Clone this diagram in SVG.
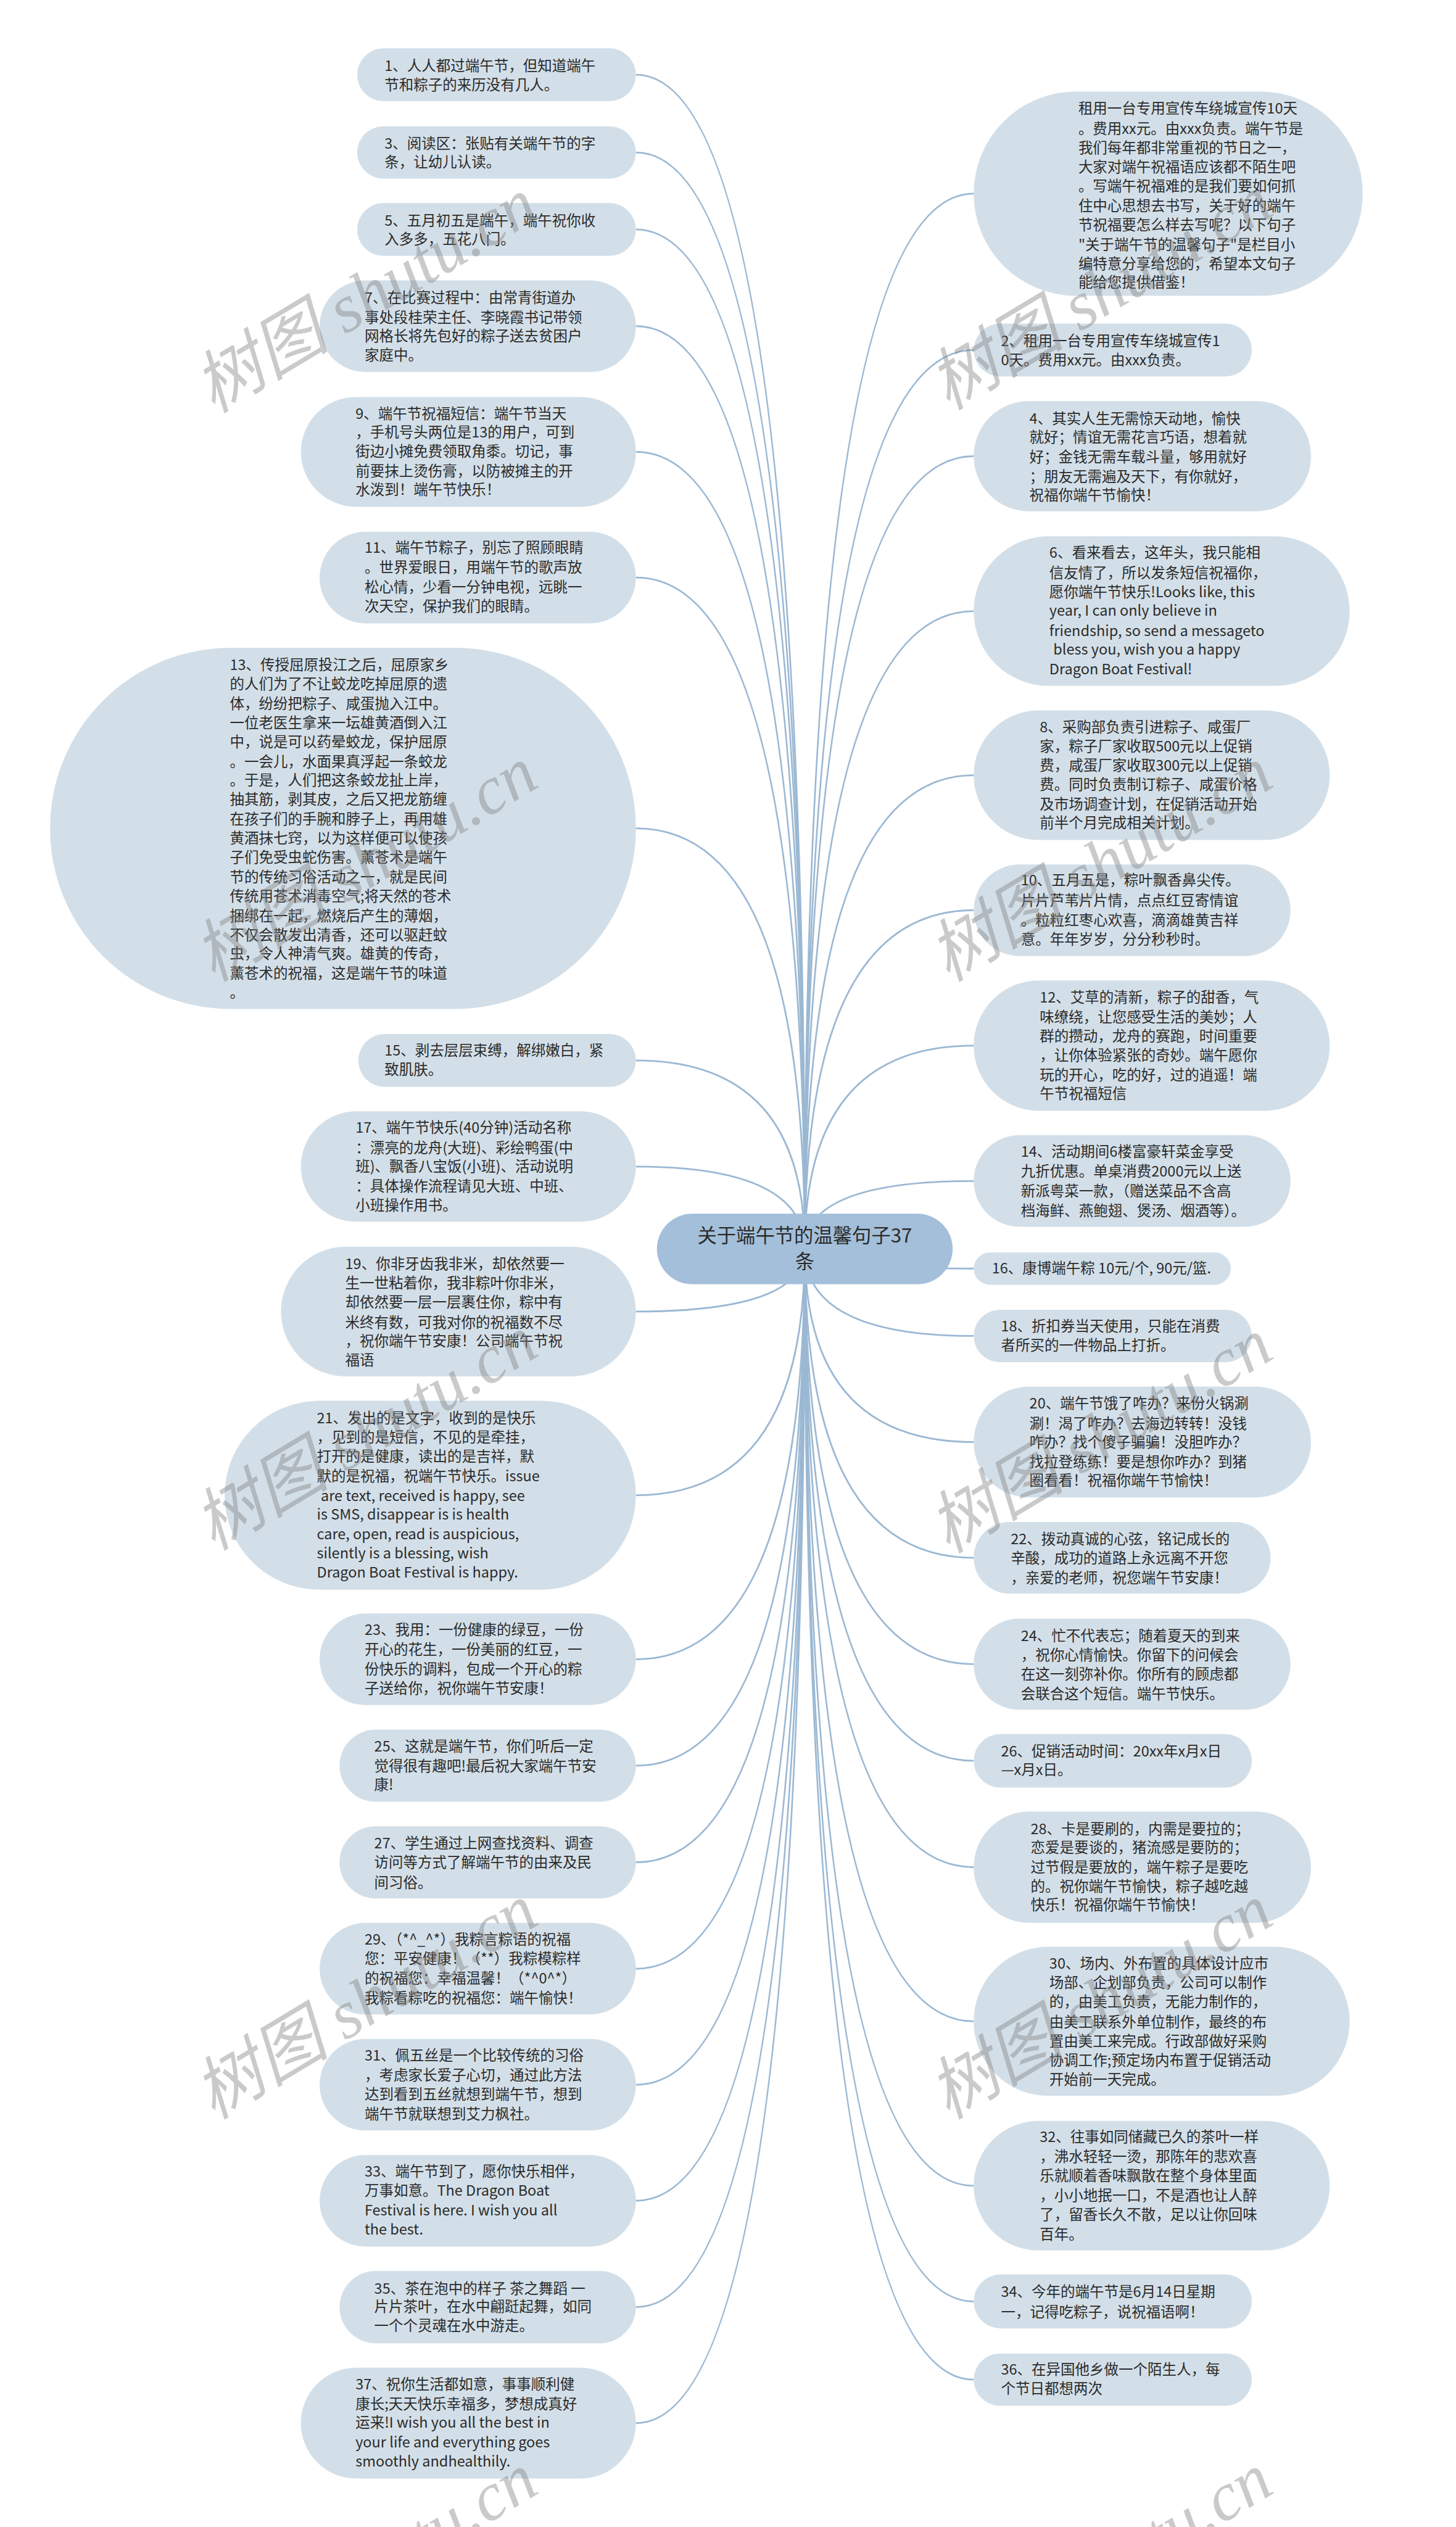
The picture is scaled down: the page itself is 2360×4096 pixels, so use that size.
<svg xmlns="http://www.w3.org/2000/svg" width="2360" height="4096" viewBox="0 0 2360 4096">
<style>
.n{fill:#d3dfe8}
.r{fill:#a3bfda}
.t{font-family:"Noto Sans CJK SC","Noto Sans",sans-serif;font-size:25.5px;fill:#2b2b2b}
.rt{font-family:"Noto Sans CJK SC","Noto Sans",sans-serif;font-size:34px;fill:#2b2b2b;text-anchor:middle}
.c{fill:none;stroke:#9bb8d3;stroke-width:3}
.wm{font-family:"Liberation Serif","Noto Sans CJK SC",serif;font-style:italic;font-size:120px;fill:#808080;fill-opacity:0.42;text-anchor:middle}
</style>
<rect width="2360" height="4096" fill="#ffffff"/>
<g transform="scale(0.921875)">
<g id="connectors">
<path class="c" d="M1415 2196Q1415 131.5 1118 131.5"/>
<path class="c" d="M1415 2196Q1415 268 1118 268"/>
<path class="c" d="M1415 2196Q1415 403.5 1118 403.5"/>
<path class="c" d="M1415 2196Q1415 573.5 1118 573.5"/>
<path class="c" d="M1415 2196Q1415 794.5 1118 794.5"/>
<path class="c" d="M1415 2196Q1415 1015.5 1118 1015.5"/>
<path class="c" d="M1415 2196Q1415 1456.5 1118 1456.5"/>
<path class="c" d="M1415 2196Q1415 1864.5 1118 1864.5"/>
<path class="c" d="M1415 2196Q1415 2051 1118 2051"/>
<path class="c" d="M1415 2196Q1415 2306 1118 2306"/>
<path class="c" d="M1415 2196Q1415 2629 1118 2629"/>
<path class="c" d="M1415 2196Q1415 2917.5 1118 2917.5"/>
<path class="c" d="M1415 2196Q1415 3104.5 1118 3104.5"/>
<path class="c" d="M1415 2196Q1415 3274.5 1118 3274.5"/>
<path class="c" d="M1415 2196Q1415 3461.5 1118 3461.5"/>
<path class="c" d="M1415 2196Q1415 3665.5 1118 3665.5"/>
<path class="c" d="M1415 2196Q1415 3869.5 1118 3869.5"/>
<path class="c" d="M1415 2196Q1415 4056.5 1118 4056.5"/>
<path class="c" d="M1415 2196Q1415 4260.5 1118 4260.5"/>
<path class="c" d="M1415 2196Q1415 340.5 1712 340.5"/>
<path class="c" d="M1415 2196Q1415 615.5 1712 615.5"/>
<path class="c" d="M1415 2196Q1415 802 1712 802"/>
<path class="c" d="M1415 2196Q1415 1074.5 1712 1074.5"/>
<path class="c" d="M1415 2196Q1415 1363 1712 1363"/>
<path class="c" d="M1415 2196Q1415 1600.5 1712 1600.5"/>
<path class="c" d="M1415 2196Q1415 1838.5 1712 1838.5"/>
<path class="c" d="M1415 2196Q1415 2076.5 1712 2076.5"/>
<path class="c" d="M1415 2196Q1415 2230.5 1712 2230.5"/>
<path class="c" d="M1415 2196Q1415 2349 1712 2349"/>
<path class="c" d="M1415 2196Q1415 2535.5 1712 2535.5"/>
<path class="c" d="M1415 2196Q1415 2739 1712 2739"/>
<path class="c" d="M1415 2196Q1415 2926 1712 2926"/>
<path class="c" d="M1415 2196Q1415 3096 1712 3096"/>
<path class="c" d="M1415 2196Q1415 3283 1712 3283"/>
<path class="c" d="M1415 2196Q1415 3554 1712 3554"/>
<path class="c" d="M1415 2196Q1415 3843 1712 3843"/>
<path class="c" d="M1415 2196Q1415 4046.5 1712 4046.5"/>
<path class="c" d="M1415 2196Q1415 4184 1712 4184"/>
</g>

<g id="root">
<rect class="r" x="1155" y="2134" width="520" height="124" rx="62"/>
<text class="rt"><tspan x="1415" y="2185">关于端午节的温馨句子37</tspan><tspan x="1415" y="2230">条</tspan></text>
</g>

<g id="n1"><rect class="n" x="628" y="85" width="490" height="93" rx="46.5"/>
<text class="t"><tspan x="676" y="125">1、人人都过端午节，但知道端午</tspan><tspan x="676" y="158">节和粽子的来历没有几人。</tspan></text></g>

<g id="n3"><rect class="n" x="628" y="222" width="490" height="92" rx="46"/>
<text class="t"><tspan x="676" y="261">3、阅读区：张贴有关端午节的字</tspan><tspan x="676" y="294">条，让幼儿认读。</tspan></text></g>

<g id="n5"><rect class="n" x="628" y="357" width="490" height="93" rx="46.5"/>
<text class="t"><tspan x="676" y="397">5、五月初五是端午，端午祝你收</tspan><tspan x="676" y="430">入多多，五花八门。</tspan></text></g>

<g id="n7"><rect class="n" x="562" y="493" width="556" height="161" rx="80.5"/>
<text class="t"><tspan x="641" y="533">7、在比赛过程中：由常青街道办</tspan><tspan x="641" y="567">事处段桂荣主任、李晓霞书记带领</tspan><tspan x="641" y="600">网格长将先包好的粽子送去贫困户</tspan><tspan x="641" y="634">家庭中。</tspan></text></g>

<g id="n9"><rect class="n" x="529" y="698" width="589" height="193" rx="96.5"/>
<text class="t"><tspan x="625" y="736">9、端午节祝福短信：端午节当天</tspan><tspan x="625" y="769">，手机号头两位是13的用户，可到</tspan><tspan x="625" y="803">街边小摊免费领取角黍。切记，事</tspan><tspan x="625" y="837">前要抹上烫伤膏，以防被摊主的开</tspan><tspan x="625" y="870">水泼到！端午节快乐！</tspan></text></g>

<g id="n11"><rect class="n" x="562" y="935" width="556" height="161" rx="80.5"/>
<text class="t"><tspan x="641" y="972">11、端午节粽子，别忘了照顾眼睛</tspan><tspan x="641" y="1007">。世界爱眼日，用端午节的歌声放</tspan><tspan x="641" y="1041">松心情，少看一分钟电视，远眺一</tspan><tspan x="641" y="1075">次天空，保护我们的眼睛。</tspan></text></g>

<g id="n13"><rect class="n" x="88" y="1139" width="1030" height="635" rx="317.5"/>
<text class="t"><tspan x="404" y="1178">13、传授屈原投江之后，屈原家乡</tspan><tspan x="404" y="1212">的人们为了不让蛟龙吃掉屈原的遗</tspan><tspan x="404" y="1246">体，纷纷把粽子、咸蛋抛入江中。</tspan><tspan x="404" y="1280">一位老医生拿来一坛雄黄酒倒入江</tspan><tspan x="404" y="1314">中，说是可以药晕蛟龙，保护屈原</tspan><tspan x="404" y="1348">。一会儿，水面果真浮起一条蛟龙</tspan><tspan x="404" y="1381">。于是，人们把这条蛟龙扯上岸，</tspan><tspan x="404" y="1415">抽其筋，剥其皮，之后又把龙筋缠</tspan><tspan x="404" y="1449">在孩子们的手腕和脖子上，再用雄</tspan><tspan x="404" y="1483">黄酒抹七窍，以为这样便可以使孩</tspan><tspan x="404" y="1517">子们免受虫蛇伤害。薰苍术是端午</tspan><tspan x="404" y="1551">节的传统习俗活动之一，就是民间</tspan><tspan x="404" y="1585">传统用苍术消毒空气;将天然的苍术</tspan><tspan x="404" y="1619">捆绑在一起，燃烧后产生的薄烟，</tspan><tspan x="404" y="1653">不仅会散发出清香，还可以驱赶蚊</tspan><tspan x="404" y="1686">虫，令人神清气爽。雄黄的传奇，</tspan><tspan x="404" y="1720">薰苍术的祝福，这是端午节的味道</tspan><tspan x="404" y="1754">。</tspan></text></g>

<g id="n15"><rect class="n" x="630" y="1818" width="488" height="93" rx="46.5"/>
<text class="t"><tspan x="676" y="1856">15、剥去层层束缚，解绑嫩白，紧</tspan><tspan x="676" y="1890">致肌肤。</tspan></text></g>

<g id="n17"><rect class="n" x="529" y="1954" width="589" height="194" rx="97"/>
<text class="t"><tspan x="625" y="1992">17、端午节快乐(40分钟)活动名称</tspan><tspan x="625" y="2027">：漂亮的龙舟(大班)、彩绘鸭蛋(中</tspan><tspan x="625" y="2060">班)、飘香八宝饭(小班)、活动说明</tspan><tspan x="625" y="2095">：具体操作流程请见大班、中班、</tspan><tspan x="625" y="2128">小班操作用书。</tspan></text></g>

<g id="n19"><rect class="n" x="494" y="2192" width="624" height="228" rx="114"/>
<text class="t"><tspan x="607" y="2231">19、你非牙齿我非米，却依然要一</tspan><tspan x="607" y="2265">生一世粘着你，我非粽叶你非米，</tspan><tspan x="607" y="2299">却依然要一层一层裹住你，粽中有</tspan><tspan x="607" y="2334">米终有数，可我对你的祝福数不尽</tspan><tspan x="607" y="2367">，祝你端午节安康！公司端午节祝</tspan><tspan x="607" y="2400">福语</tspan></text></g>

<g id="n21"><rect class="n" x="395" y="2463" width="723" height="332" rx="166"/>
<text class="t"><tspan x="557" y="2502">21、发出的是文字，收到的是快乐</tspan><tspan x="557" y="2536">，见到的是短信，不见的是牵挂，</tspan><tspan x="557" y="2570">打开的是健康，读出的是吉祥，默</tspan><tspan x="557" y="2604">默的是祝福，祝端午节快乐。issue</tspan><tspan x="564" y="2639">are text, received is happy, see</tspan><tspan x="557" y="2672">is SMS, disappear is is health</tspan><tspan x="557" y="2706">care, open, read is auspicious,</tspan><tspan x="557" y="2740">silently is a blessing, wish</tspan><tspan x="557" y="2774">Dragon Boat Festival is happy.</tspan></text></g>

<g id="n23"><rect class="n" x="562" y="2837" width="556" height="161" rx="80.5"/>
<text class="t"><tspan x="641" y="2875">23、我用：一份健康的绿豆，一份</tspan><tspan x="641" y="2909">开心的花生，一份美丽的红豆，一</tspan><tspan x="641" y="2944">份快乐的调料，包成一个开心的粽</tspan><tspan x="641" y="2978">子送给你，祝你端午节安康！</tspan></text></g>

<g id="n25"><rect class="n" x="597" y="3041" width="521" height="127" rx="63.5"/>
<text class="t"><tspan x="658" y="3080">25、这就是端午节，你们听后一定</tspan><tspan x="658" y="3114">觉得很有趣吧!最后祝大家端午节安</tspan><tspan x="658" y="3147">康!</tspan></text></g>

<g id="n27"><rect class="n" x="597" y="3211" width="521" height="127" rx="63.5"/>
<text class="t"><tspan x="658" y="3250">27、学生通过上网查找资料、调查</tspan><tspan x="658" y="3284">访问等方式了解端午节的由来及民</tspan><tspan x="658" y="3319">间习俗。</tspan></text></g>

<g id="n29"><rect class="n" x="562" y="3381" width="556" height="161" rx="80.5"/>
<text class="t"><tspan x="641" y="3419">29、（*^_^*）我粽言粽语的祝福</tspan><tspan x="641" y="3453">您：平安健康！（**）我粽模粽样</tspan><tspan x="641" y="3487">的祝福您：幸福温馨！（*^0^*）</tspan><tspan x="641" y="3522">我粽看粽吃的祝福您：端午愉快！</tspan></text></g>

<g id="n31"><rect class="n" x="562" y="3585" width="556" height="161" rx="80.5"/>
<text class="t"><tspan x="641" y="3623">31、佩五丝是一个比较传统的习俗</tspan><tspan x="641" y="3658">，考虑家长爱子心切，通过此方法</tspan><tspan x="641" y="3691">达到看到五丝就想到端午节，想到</tspan><tspan x="641" y="3726">端午节就联想到艾力枫社。</tspan></text></g>

<g id="n33"><rect class="n" x="562" y="3789" width="556" height="161" rx="80.5"/>
<text class="t"><tspan x="641" y="3827">33、端午节到了，愿你快乐相伴，</tspan><tspan x="641" y="3861">万事如意。The Dragon Boat</tspan><tspan x="641" y="3895">Festival is here. I wish you all</tspan><tspan x="641" y="3929">the best.</tspan></text></g>

<g id="n35"><rect class="n" x="597" y="3993" width="521" height="127" rx="63.5"/>
<text class="t"><tspan x="658" y="4033">35、茶在泡中的样子 茶之舞蹈 一</tspan><tspan x="658" y="4065">片片茶叶，在水中翩跹起舞，如同</tspan><tspan x="658" y="4098">一个个灵魂在水中游走。</tspan></text></g>

<g id="n37"><rect class="n" x="529" y="4163" width="589" height="195" rx="97.5"/>
<text class="t"><tspan x="625" y="4201">37、祝你生活都如意，事事顺利健</tspan><tspan x="625" y="4236">康长;天天快乐幸福多，梦想成真好</tspan><tspan x="625" y="4268">运来!I wish you all the best in</tspan><tspan x="625" y="4303">your life and everything goes</tspan><tspan x="625" y="4337">smoothly andhealthily.</tspan></text></g>

<g id="intro"><rect class="n" x="1712" y="161" width="684" height="359" rx="179.5"/>
<text class="t"><tspan x="1896" y="200">租用一台专用宣传车绕城宣传10天</tspan><tspan x="1896" y="235">。费用xx元。由xxx负责。端午节是</tspan><tspan x="1896" y="269">我们每年都非常重视的节日之一，</tspan><tspan x="1896" y="303">大家对端午祝福语应该都不陌生吧</tspan><tspan x="1896" y="336">。写端午祝福难的是我们要如何抓</tspan><tspan x="1896" y="371">住中心思想去书写，关于好的端午</tspan><tspan x="1896" y="405">节祝福要怎么样去写呢？以下句子</tspan><tspan x="1896" y="439">"关于端午节的温馨句子"是栏目小</tspan><tspan x="1896" y="473">编特意分享给您的，希望本文句子</tspan><tspan x="1896" y="506">能给您提供借鉴！</tspan></text></g>

<g id="n2"><rect class="n" x="1712" y="569" width="489" height="93" rx="46.5"/>
<text class="t"><tspan x="1760" y="609">2、租用一台专用宣传车绕城宣传1</tspan><tspan x="1760" y="642">0天。费用xx元。由xxx负责。</tspan></text></g>

<g id="n4"><rect class="n" x="1712" y="705" width="593" height="194" rx="97"/>
<text class="t"><tspan x="1810" y="745">4、其实人生无需惊天动地，愉快</tspan><tspan x="1810" y="778">就好；情谊无需花言巧语，想着就</tspan><tspan x="1810" y="812">好；金钱无需车载斗量，够用就好</tspan><tspan x="1810" y="847">；朋友无需遍及天下，有你就好，</tspan><tspan x="1810" y="880">祝福你端午节愉快！</tspan></text></g>

<g id="n6"><rect class="n" x="1712" y="943" width="661" height="263" rx="131.5"/>
<text class="t"><tspan x="1845" y="981">6、看来看去，这年头，我只能相</tspan><tspan x="1845" y="1016">信友情了，所以发条短信祝福你，</tspan><tspan x="1845" y="1050">愿你端午节快乐!Looks like, this</tspan><tspan x="1845" y="1083">year, I can only believe in</tspan><tspan x="1845" y="1118">friendship, so send a messageto</tspan><tspan x="1852" y="1151">bless you, wish you a happy</tspan><tspan x="1845" y="1186">Dragon Boat Festival!</tspan></text></g>

<g id="n8"><rect class="n" x="1712" y="1249" width="626" height="228" rx="114"/>
<text class="t"><tspan x="1828" y="1288">8、采购部负责引进粽子、咸蛋厂</tspan><tspan x="1828" y="1321">家，粽子厂家收取500元以上促销</tspan><tspan x="1828" y="1355">费，咸蛋厂家收取300元以上促销</tspan><tspan x="1828" y="1389">费。同时负责制订粽子、咸蛋价格</tspan><tspan x="1828" y="1423">及市场调查计划，在促销活动开始</tspan><tspan x="1828" y="1456">前半个月完成相关计划。</tspan></text></g>

<g id="n10"><rect class="n" x="1712" y="1520" width="557" height="161" rx="80.5"/>
<text class="t"><tspan x="1795" y="1557">10、五月五是，粽叶飘香鼻尖传。</tspan><tspan x="1795" y="1592">片片芦苇片片情，点点红豆寄情谊</tspan><tspan x="1795" y="1627">。粒粒红枣心欢喜，滴滴雄黄吉祥</tspan><tspan x="1795" y="1661">意。年年岁岁，分分秒秒时。</tspan></text></g>

<g id="n12"><rect class="n" x="1712" y="1724" width="626" height="229" rx="114.5"/>
<text class="t"><tspan x="1828" y="1763">12、艾草的清新，粽子的甜香，气</tspan><tspan x="1828" y="1797">味缭绕，让您感受生活的美妙；人</tspan><tspan x="1828" y="1831">群的攒动，龙舟的赛跑，时间重要</tspan><tspan x="1828" y="1865">，让你体验紧张的奇妙。端午愿你</tspan><tspan x="1828" y="1899">玩的开心，吃的好，过的逍遥！端</tspan><tspan x="1828" y="1932">午节祝福短信</tspan></text></g>

<g id="n14"><rect class="n" x="1712" y="1996" width="557" height="161" rx="80.5"/>
<text class="t"><tspan x="1795" y="2034">14、活动期间6楼富豪轩菜金享受</tspan><tspan x="1795" y="2069">九折优惠。单桌消费2000元以上送</tspan><tspan x="1795" y="2103">新派粤菜一款，（赠送菜品不含高</tspan><tspan x="1795" y="2138">档海鲜、燕鲍翅、煲汤、烟酒等）。</tspan></text></g>

<g id="n16"><rect class="n" x="1712" y="2202" width="452" height="57" rx="28.5"/>
<text class="t"><tspan x="1744" y="2239">16、康博端午粽 10元/个, 90元/篮.</tspan></text></g>

<g id="n18"><rect class="n" x="1712" y="2303" width="489" height="92" rx="46"/>
<text class="t"><tspan x="1760" y="2341">18、折扣券当天使用，只能在消费</tspan><tspan x="1760" y="2375">者所买的一件物品上打折。</tspan></text></g>

<g id="n20"><rect class="n" x="1712" y="2438" width="593" height="195" rx="97.5"/>
<text class="t"><tspan x="1810" y="2477">20、端午节饿了咋办？来份火锅涮</tspan><tspan x="1810" y="2512">涮！渴了咋办？去海边转转！没钱</tspan><tspan x="1810" y="2545">咋办？找个傻子骗骗！没胆咋办？</tspan><tspan x="1810" y="2579">找拉登练练！要是想你咋办？到猪</tspan><tspan x="1810" y="2612">圈看看！祝福你端午节愉快！</tspan></text></g>

<g id="n22"><rect class="n" x="1712" y="2676" width="522" height="126" rx="63"/>
<text class="t"><tspan x="1777" y="2715">22、拨动真诚的心弦，铭记成长的</tspan><tspan x="1777" y="2749">辛酸，成功的道路上永远离不开您</tspan><tspan x="1777" y="2783">，亲爱的老师，祝您端午节安康！</tspan></text></g>

<g id="n24"><rect class="n" x="1712" y="2846" width="557" height="160" rx="80"/>
<text class="t"><tspan x="1795" y="2885">24、忙不代表忘；随着夏天的到来</tspan><tspan x="1795" y="2919">，祝你心情愉快。你留下的问候会</tspan><tspan x="1795" y="2953">在这一刻弥补你。你所有的顾虑都</tspan><tspan x="1795" y="2987">会联合这个短信。端午节快乐。</tspan></text></g>

<g id="n26"><rect class="n" x="1712" y="3049" width="489" height="94" rx="47"/>
<text class="t"><tspan x="1760" y="3088">26、促销活动时间：20xx年x月x日</tspan><tspan x="1760" y="3121">—x月x日。</tspan></text></g>

<g id="n28"><rect class="n" x="1712" y="3185" width="593" height="196" rx="98"/>
<text class="t"><tspan x="1812" y="3225">28、卡是要刷的，内需是要拉的；</tspan><tspan x="1812" y="3258">恋爱是要谈的，猪流感是要防的；</tspan><tspan x="1812" y="3292">过节假是要放的，端午粽子是要吃</tspan><tspan x="1812" y="3326">的。祝你端午节愉快，粽子越吃越</tspan><tspan x="1812" y="3358">快乐！祝福你端午节愉快！</tspan></text></g>

<g id="n30"><rect class="n" x="1712" y="3423" width="661" height="262" rx="131"/>
<text class="t"><tspan x="1845" y="3461">30、场内、外布置的具体设计应市</tspan><tspan x="1845" y="3495">场部、企划部负责，公司可以制作</tspan><tspan x="1845" y="3529">的，由美工负责，无能力制作的，</tspan><tspan x="1845" y="3564">由美工联系外单位制作，最终的布</tspan><tspan x="1845" y="3598">置由美工来完成。行政部做好采购</tspan><tspan x="1845" y="3632">协调工作;预定场内布置于促销活动</tspan><tspan x="1845" y="3665">开始前一天完成。</tspan></text></g>

<g id="n32"><rect class="n" x="1712" y="3729" width="626" height="228" rx="114"/>
<text class="t"><tspan x="1828" y="3766">32、往事如同储藏已久的茶叶一样</tspan><tspan x="1828" y="3801">，沸水轻轻一烫，那陈年的悲欢喜</tspan><tspan x="1828" y="3835">乐就顺着香味飘散在整个身体里面</tspan><tspan x="1828" y="3869">，小小地抿一口，不是酒也让人醉</tspan><tspan x="1828" y="3903">了，留香长久不散，足以让你回味</tspan><tspan x="1828" y="3938">百年。</tspan></text></g>

<g id="n34"><rect class="n" x="1712" y="3999" width="489" height="95" rx="47.5"/>
<text class="t"><tspan x="1760" y="4039">34、今年的端午节是6月14日星期</tspan><tspan x="1760" y="4074">一，记得吃粽子，说祝福语啊！</tspan></text></g>

<g id="n36"><rect class="n" x="1712" y="4138" width="489" height="92" rx="46"/>
<text class="t"><tspan x="1760" y="4175">36、在异国他乡做一个陌生人，每</tspan><tspan x="1760" y="4209">个节日都想两次</tspan></text></g>

<g id="watermarks">
<text class="wm" transform="translate(643,520) rotate(-31)" x="0" y="40">树图 shutu.cn</text>
<text class="wm" transform="translate(1935,515) rotate(-31)" x="0" y="40">树图 shutu.cn</text>
<text class="wm" transform="translate(643,1520) rotate(-31)" x="0" y="40">树图 shutu.cn</text>
<text class="wm" transform="translate(1935,1520) rotate(-31)" x="0" y="40">树图 shutu.cn</text>
<text class="wm" transform="translate(643,2520) rotate(-31)" x="0" y="40">树图 shutu.cn</text>
<text class="wm" transform="translate(1935,2525) rotate(-31)" x="0" y="40">树图 shutu.cn</text>
<text class="wm" transform="translate(643,3520) rotate(-31)" x="0" y="40">树图 shutu.cn</text>
<text class="wm" transform="translate(1935,3520) rotate(-31)" x="0" y="40">树图 shutu.cn</text>
<text class="wm" transform="translate(643,4520) rotate(-31)" x="0" y="40">树图 shutu.cn</text>
<text class="wm" transform="translate(1935,4520) rotate(-31)" x="0" y="40">树图 shutu.cn</text>
</g>
</g>
</svg>
